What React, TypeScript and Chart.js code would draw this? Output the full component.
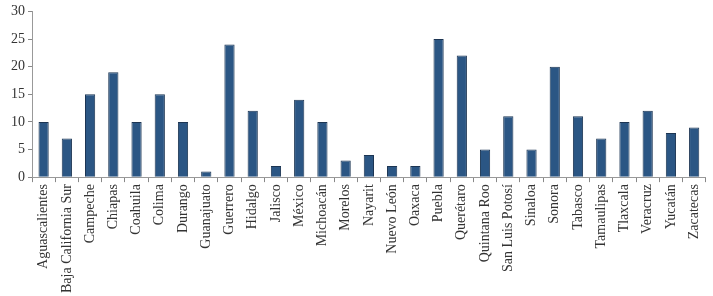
import React, { useEffect, useRef } from "react";
import { Chart, registerables } from "chart.js";

Chart.register(...registerables);

const categories = [
  "Aguascalientes", "Baja California Sur", "Campeche", "Chiapas", "Coahuila", "Colima",
  "Durango", "Guanajuato", "Guerrero", "Hidalgo", "Jalisco", "México", "Michoacán",
  "Morelos", "Nayarit", "Nuevo León", "Oaxaca", "Puebla", "Querétaro", "Quintana Roo",
  "San Luis Potosí", "Sinaloa", "Sonora", "Tabasco", "Tamaulipas", "Tlaxcala",
  "Veracruz", "Yucatán", "Zacatecas",
];
const values = [10, 7, 15, 19, 10, 15, 10, 1, 24, 12, 2, 14, 10, 3, 4, 2, 2, 25, 22, 5, 11, 5, 20, 11, 7, 10, 12, 8, 9];
const yTicks = [0, 5, 10, 15, 20, 25, 30];

export default function App() {
  const ref = useRef<HTMLCanvasElement | null>(null);
  useEffect(() => {
    document.body.style.margin = "0";
    if (!ref.current) return;
    const font = { family: "'Liberation Serif', serif", size: 14 };
    const chart = new Chart(ref.current, {
      type: "bar",
      data: {
        labels: categories,
        datasets: [
          {
            data: values,
            backgroundColor: "#2b5684",
            borderColor: "#1c3553",
            borderWidth: 1,
            categoryPercentage: 1,
            barPercentage: 0.44,
          },
        ],
      },
      options: {
        animation: false,
        responsive: false,
        maintainAspectRatio: false,
        layout: { padding: { top: -5, right: 2, left: 8, bottom: 1 } },
        plugins: { legend: { display: false }, tooltip: { enabled: false } },
        scales: {
          x: {
            offset: true,
            grid: {
              display: true,
              drawOnChartArea: false,
              drawTicks: true,
              tickLength: 5,
              color: "#888888",
              offset: true,
            },
            border: { display: true, color: "#999999", width: 1 },
            ticks: {
              color: "#333333",
              font,
              minRotation: 90,
              maxRotation: 90,
              autoSkip: false,
              padding: 2,
            },
          },
          y: {
            min: 0,
            max: 30,
            afterBuildTicks: (axis: any) => {
              axis.ticks = yTicks.map((v) => ({ value: v }));
            },
            grid: {
              display: true,
              drawOnChartArea: false,
              drawTicks: true,
              tickLength: 4,
              color: "#888888",
            },
            border: { display: true, color: "#999999", width: 1 },
            ticks: { color: "#333333", font, padding: 3 },
          },
        },
      },
    });
    return () => chart.destroy();
  }, []);
  return (
    <div style={{ width: 713, height: 296, background: "#fff" }}>
      <canvas ref={ref} width={713} height={296} style={{ width: 713, height: 296 }} />
    </div>
  );
}
